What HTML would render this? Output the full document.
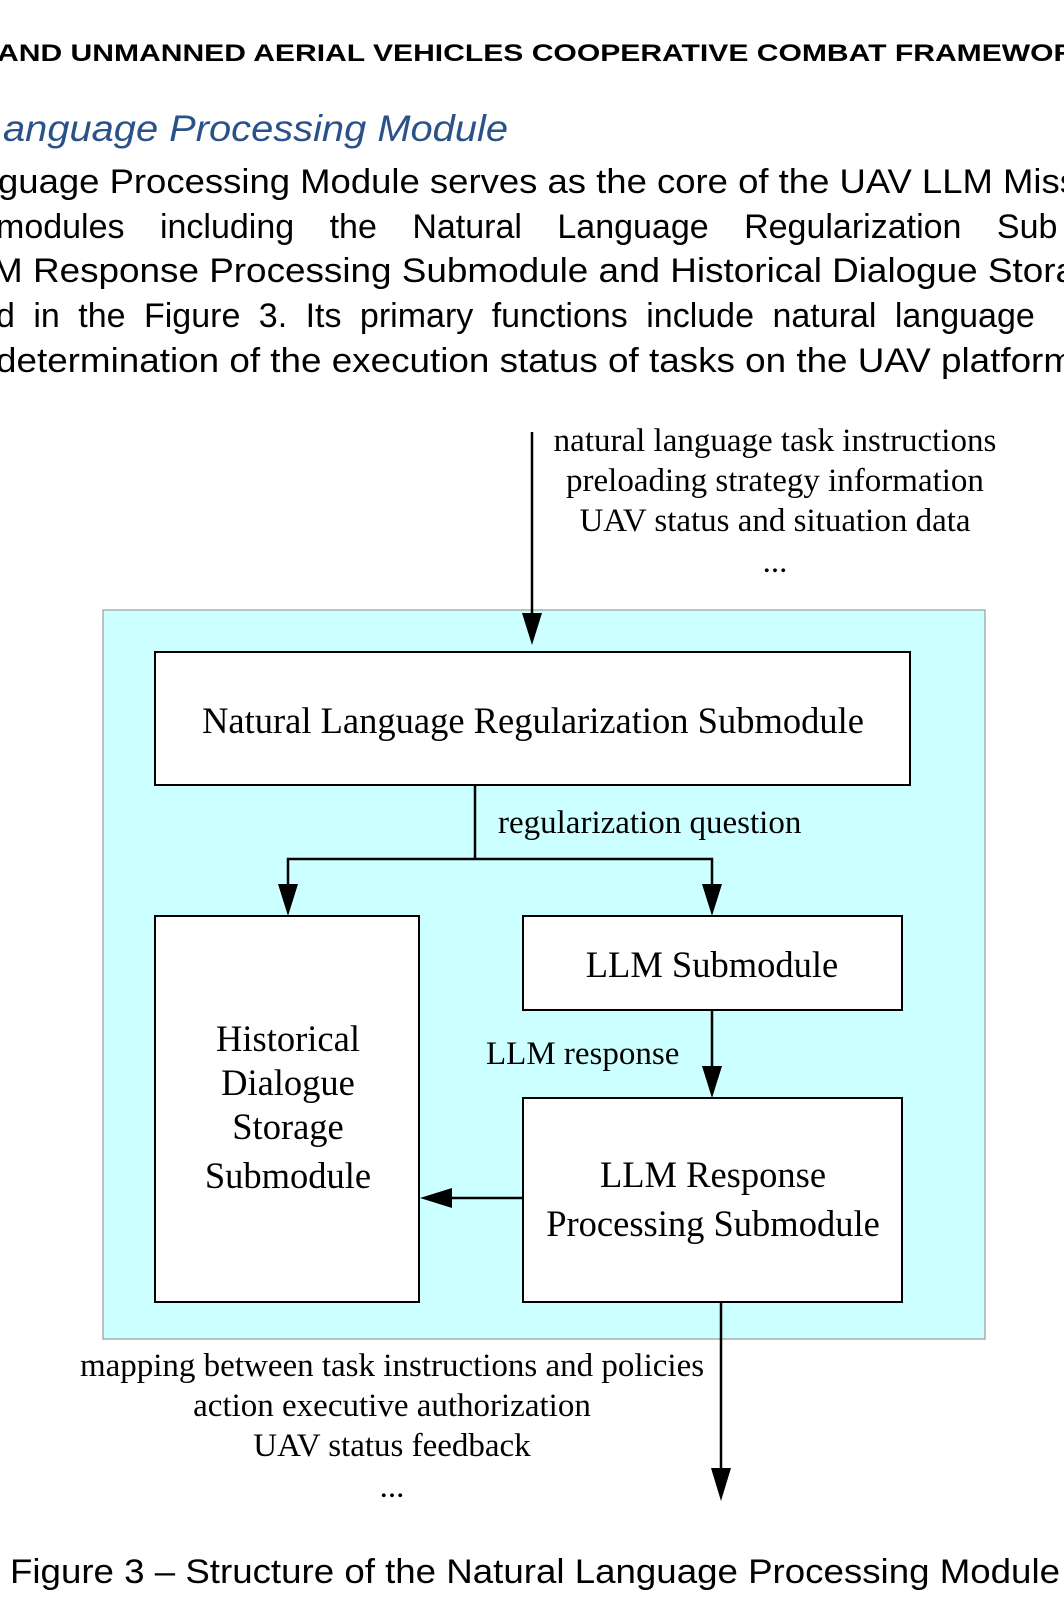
<!DOCTYPE html>
<html><head><meta charset="utf-8"><style>
html,body{margin:0;padding:0;background:#fff;width:1064px;height:1600px;overflow:hidden}
svg{display:block}
.s{font-family:"Liberation Sans",Arial,sans-serif}
.r{font-family:"Liberation Serif","Times New Roman",serif;fill:#000}
</style></head><body>
<svg width="1064" height="1600" viewBox="0 0 1064 1600" xmlns="http://www.w3.org/2000/svg">
<text class="s" x="-3" y="61" font-size="24" font-weight="bold" textLength="1100" lengthAdjust="spacingAndGlyphs">AND UNMANNED AERIAL VEHICLES COOPERATIVE COMBAT FRAMEWORK</text>
<text class="s" x="3" y="141" font-size="37" font-style="italic" fill="#2a5289" textLength="505" lengthAdjust="spacingAndGlyphs">anguage Processing Module</text>
<g class="s" font-size="34" fill="#000">
<text x="-2" y="193" textLength="1080" lengthAdjust="spacingAndGlyphs">guage Processing Module serves as the core of the UAV LLM Miss</text>
<text x="-4" y="238" word-spacing="26">modules including the Natural Language Regularization Sub</text>
<text x="-8" y="282" textLength="1084" lengthAdjust="spacingAndGlyphs">M Response Processing Submodule and Historical Dialogue Stora</text>
<text x="-4" y="327" word-spacing="9">d in the Figure 3. Its primary functions include natural language</text>
<text x="-4" y="372" textLength="1078" lengthAdjust="spacingAndGlyphs">determination of the execution status of tasks on the UAV platform</text>
</g>
<rect x="103" y="610" width="882" height="729" fill="#ccffff" stroke="#999" stroke-width="1.2"/>
<g fill="#fff" stroke="#000" stroke-width="2">
<rect x="155" y="652" width="755" height="133"/>
<rect x="155" y="916" width="264" height="386"/>
<rect x="523" y="916" width="379" height="94"/>
<rect x="523" y="1098" width="379" height="204"/>
</g>
<g stroke="#000" stroke-width="2.5" fill="none">
<line x1="532" y1="432" x2="532" y2="615"/>
<polyline points="475,785 475,859"/>
<polyline points="288,885 288,859 712,859 712,885"/>
<line x1="712" y1="1010" x2="712" y2="1068"/>
<line x1="523" y1="1198" x2="450" y2="1198"/>
<line x1="721" y1="1302" x2="721" y2="1470"/>
</g>
<g fill="#000">
<polygon points="522,613 542,613 532,645"/>
<polygon points="278,884 298,884 288,916"/>
<polygon points="702,884 722,884 712,916"/>
<polygon points="702,1066 722,1066 712,1098"/>
<polygon points="452,1188 452,1208 420,1198"/>
<polygon points="711,1468 731,1468 721,1501"/>
</g>
<g class="r" font-size="33" text-anchor="middle">
<text x="775" y="451">natural language task instructions</text>
<text x="775" y="491">preloading strategy information</text>
<text x="775" y="531">UAV status and situation data</text>
<text x="775" y="572">...</text>
<text x="533" y="733" font-size="36.5">Natural Language Regularization Submodule</text>
<text x="712" y="977" font-size="36.5">LLM Submodule</text>
<text x="288" y="1051" font-size="36.5">Historical</text>
<text x="288" y="1095" font-size="36.5">Dialogue</text>
<text x="288" y="1139" font-size="36.5">Storage</text>
<text x="288" y="1188" font-size="36.5">Submodule</text>
<text x="713" y="1187" font-size="36.5">LLM Response</text>
<text x="713" y="1236" font-size="36.5">Processing Submodule</text>
<text x="392" y="1376">mapping between task instructions and policies</text>
<text x="392" y="1416">action executive authorization</text>
<text x="392" y="1456">UAV status feedback</text>
<text x="392" y="1497">...</text>
</g>
<g class="r" font-size="33">
<text x="498" y="833">regularization question</text>
<text x="486" y="1064">LLM response</text>
</g>
<text class="s" x="10" y="1583" font-size="34" textLength="1050" lengthAdjust="spacingAndGlyphs">Figure 3 – Structure of the Natural Language Processing Module</text>
</svg>
</body></html>
